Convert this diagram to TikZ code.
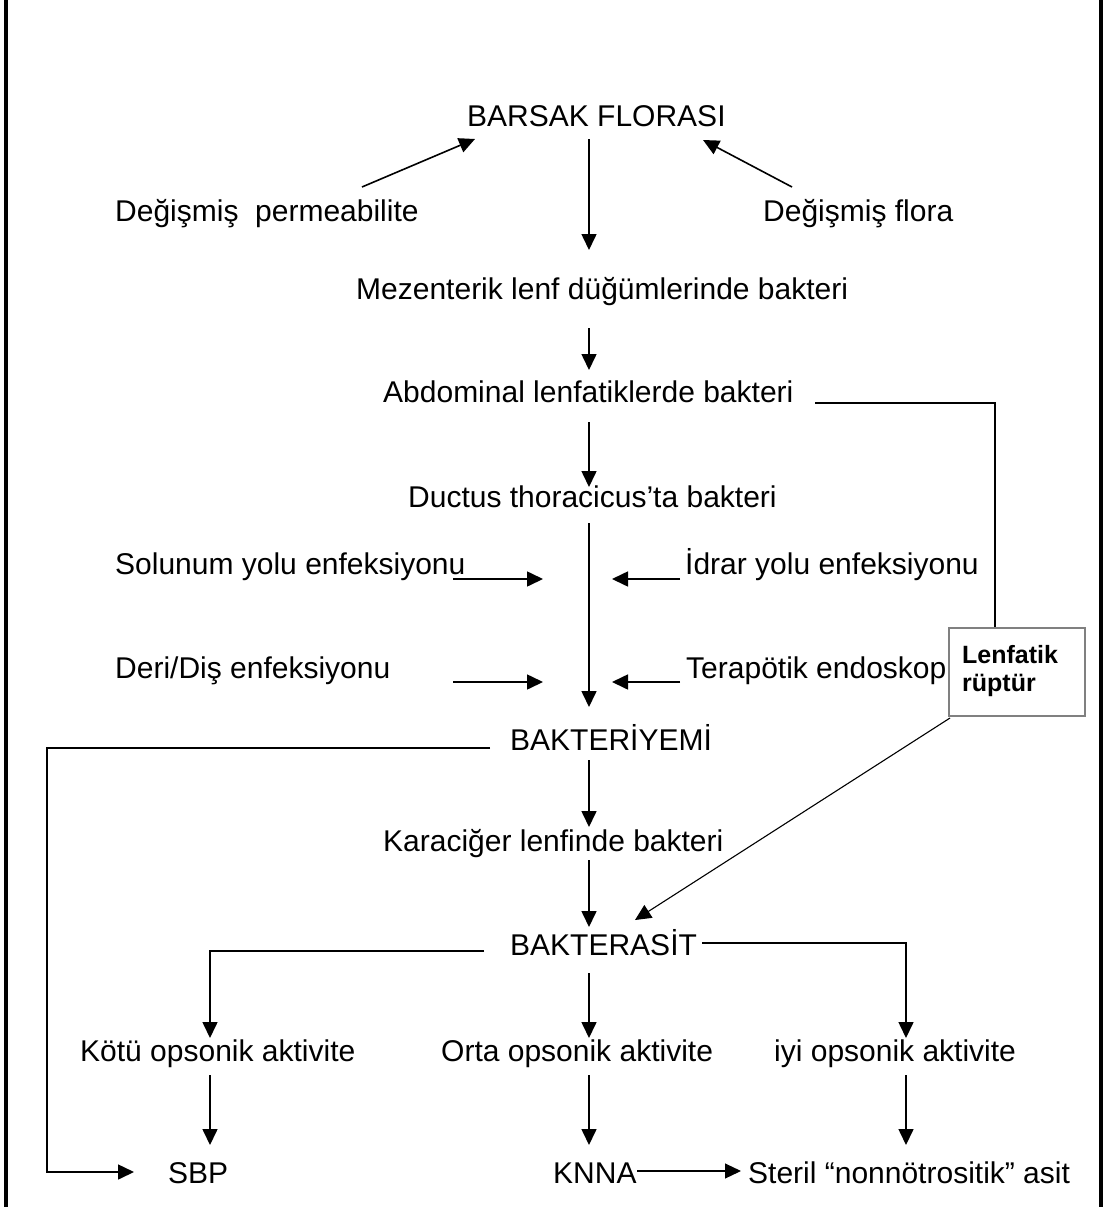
\documentclass[tikz,border=0pt]{standalone}
\usepackage{fontspec}
\setmainfont{Liberation Sans}
\usetikzlibrary{arrows.meta}
\begin{document}
\begin{tikzpicture}[x=1pt,y=-1pt,
  lbl/.style={anchor=base west, inner sep=0pt, font=\fontsize{30}{35}\selectfont},
  boxlbl/.style={anchor=base west, inner sep=0pt, font=\bfseries\fontsize{25}{29}\selectfont},
  con/.style={line width=1.6pt, -{Triangle[length=16pt,width=15pt]}},
  thinln/.style={line width=1.1pt},
  thinarr/.style={line width=1.1pt, -{Triangle[length=16pt,width=15pt]}},
  frameln/.style={line width=4pt},
  rupbox/.style={draw=black!50, line width=2.5pt, fill=white, minimum width=136pt, minimum height=88pt, inner sep=0pt}]
\useasboundingbox (0,0) rectangle (1105,1207);
% frame
\coordinate (fl1) at (6,0); \coordinate (fl2) at (6,1207);
\coordinate (fr1) at (1101,0); \coordinate (fr2) at (1101,1207);
\draw[frameln] (fl1) -- (fl2);
\draw[frameln] (fr1) -- (fr2);
% texts
\node[lbl] (barsak) at (467,126) {BARSAK FLORASI};
\node[lbl] (perm) at (115,221) {Değişmiş\ \ permeabilite};
\node[lbl] (flora) at (763,221) {Değişmiş flora};
\node[lbl] (mez) at (356,299) {Mezenterik lenf düğümlerinde bakteri};
\node[lbl] (abd) at (383,402) {Abdominal lenfatiklerde bakteri};
\node[lbl] (duct) at (408,507) {Ductus thoracicus’ta bakteri};
\node[lbl] (sol) at (115,574) {Solunum yolu enfeksiyonu};
\node[lbl] (idr) at (685,574) {İdrar yolu enfeksiyonu};
\node[lbl] (deri) at (115,678) {Deri/Diş enfeksiyonu};
\node[lbl] (ter) at (686,678) {Terapötik endoskop};
\node[lbl] (bye) at (510,750) {BAKTERİYEMİ};
\node[lbl] (kc) at (383,851) {Karaciğer lenfinde bakteri};
\node[lbl] (bas) at (510,955) {BAKTERASİT};
\node[lbl] (kotu) at (80,1061) {Kötü opsonik aktivite};
\node[lbl] (orta) at (441,1061) {Orta opsonik aktivite};
\node[lbl] (iyi) at (774,1061) {iyi opsonik aktivite};
\node[lbl] (sbp) at (168,1183) {SBP};
\node[lbl] (knna) at (553,1183) {KNNA};
\node[lbl] (steril) at (748,1183) {Steril “nonnötrositik” asit};
% box
\node[rupbox] (rup) at (1017,672) {};
\node[boxlbl] (rupt1) at (962,663) {Lenfatik};
\node[boxlbl] (rupt2) at (962,691) {rüptür};
% coordinates
\coordinate (pA) at (362,187); \coordinate (pB) at (475,139);
\coordinate (fA) at (792,187); \coordinate (fB) at (703,140);
\coordinate (v1a) at (589,139); \coordinate (v1b) at (589,250);
\coordinate (v2a) at (589,328); \coordinate (v2b) at (589,370);
\coordinate (v3a) at (589,422); \coordinate (v3b) at (589,487);
\coordinate (v4a) at (589,523); \coordinate (v4b) at (589,707);
\coordinate (sA) at (453,579); \coordinate (sB) at (543,579);
\coordinate (iA) at (680,579); \coordinate (iB) at (612,579);
\coordinate (dA) at (453,682); \coordinate (dB) at (543,682);
\coordinate (tA) at (680,682); \coordinate (tB) at (612,682);
\coordinate (aL) at (815,403); \coordinate (aC) at (995,403);
\coordinate (bL) at (490,748); \coordinate (bC) at (47,748); \coordinate (bE) at (47,1172); \coordinate (sbpT) at (134,1172);
\coordinate (v5a) at (589,760); \coordinate (v5b) at (589,827);
\coordinate (v6a) at (589,860); \coordinate (v6b) at (589,927);
\coordinate (dgA) at (950,718); \coordinate (dgB) at (635,920);
\coordinate (lA) at (484,951); \coordinate (lC) at (210,951); \coordinate (lB) at (210,1038);
\coordinate (rA) at (702,943); \coordinate (rC) at (906,943); \coordinate (rB) at (906,1038);
\coordinate (v7a) at (589,973); \coordinate (v7b) at (589,1038);
\coordinate (k1a) at (210,1075); \coordinate (k1b) at (210,1145);
\coordinate (k2a) at (589,1075); \coordinate (k2b) at (589,1145);
\coordinate (k3a) at (906,1075); \coordinate (k3b) at (906,1145);
\coordinate (knA) at (637,1171); \coordinate (knB) at (741,1171);
% connectors
\draw[con] (pA) -- (pB);
\draw[con] (fA) -- (fB);
\draw[con] (v1a) -- (v1b);
\draw[con] (v2a) -- (v2b);
\draw[con] (v3a) -- (v3b);
\draw[con] (v4a) -- (v4b);
\draw[con] (sA) -- (sB);
\draw[con] (iA) -- (iB);
\draw[con] (dA) -- (dB);
\draw[con] (tA) -- (tB);
\draw[thinln] (aL) -- (aC) -- (aC |- rup.north);
\draw[con] (bL) -- (bC) -- (bE) -- (sbpT);
\draw[con] (v5a) -- (v5b);
\draw[con] (v6a) -- (v6b);
\draw[thinarr] (dgA) -- (dgB);
\draw[con] (lA) -- (lC) -- (lB);
\draw[con] (rA) -- (rC) -- (rB);
\draw[con] (v7a) -- (v7b);
\draw[con] (k1a) -- (k1b);
\draw[con] (k2a) -- (k2b);
\draw[con] (k3a) -- (k3b);
\draw[thinarr] (knA) -- (knB);
\end{tikzpicture}
\end{document}
